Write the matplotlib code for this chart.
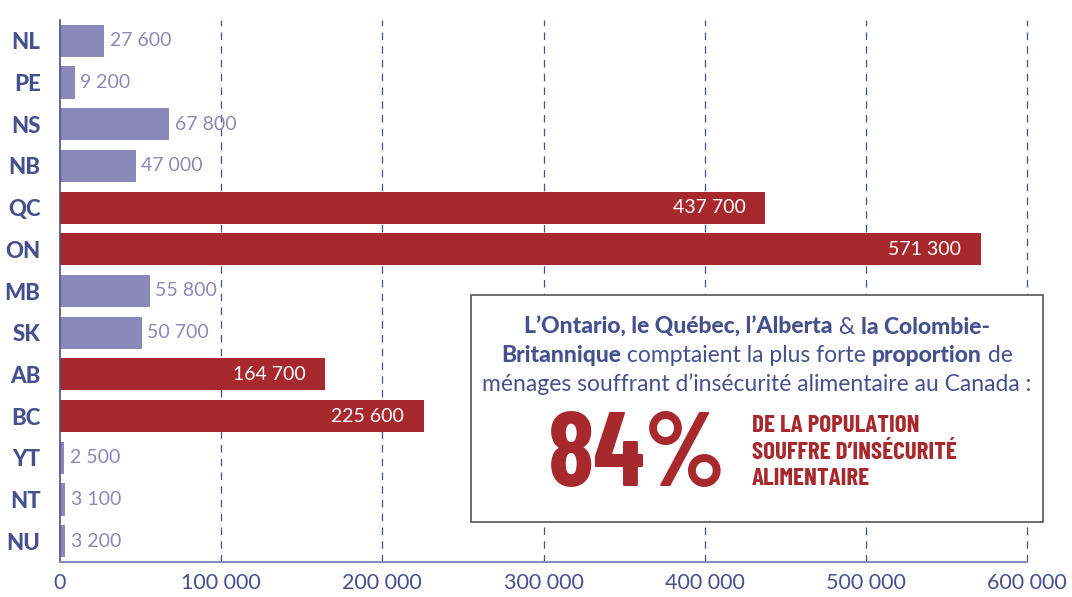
import matplotlib.pyplot as plt
from matplotlib.patches import Rectangle

provinces = ["NL", "PE", "NS", "NB", "QC", "ON", "MB", "SK", "AB", "BC", "YT", "NT", "NU"]
households = [27600, 9200, 67800, 47000, 437700, 571300, 55800, 50700, 164700, 225600, 2500, 3100, 3200]
highlight = ["QC", "ON", "AB", "BC"]
ticks = [0, 100000, 200000, 300000, 400000, 500000, 600000]

NAVY = "#47508f"
LAV = "#8a89b9"
RED = "#a8292d"

MAIN = ["Lato", "DejaVu Sans"]
COND = ["Barlow Condensed", "DejaVu Sans"]


def fmt(v):
    return f"{v:,}".replace(",", " ")


fig = plt.figure(figsize=(10.72, 5.97), dpi=100)
ax = fig.add_axes([60 / 1072, 35 / 597, 967 / 1072, 542 / 597])

y = list(range(len(provinces)))
colors = [RED if p in highlight else LAV for p in provinces]
ax.barh(y, households, height=0.77, color=colors, zorder=2)

ax.set_xlim(0, 600000)
ax.set_ylim(len(provinces) - 0.5, -0.5)

for x in ticks[1:]:
    ax.axvline(x, color=NAVY, lw=0.9, dashes=(6, 5), zorder=1, clip_on=False)

for yi, (p, v) in enumerate(zip(provinces, households)):
    if p in highlight:
        ax.annotate(fmt(v), (v, yi), xytext=(-14, 0), textcoords="offset points",
                    ha="right", va="center", color="white", fontsize=14,
                    family=MAIN, zorder=3)
    else:
        ax.annotate(fmt(v), (v, yi), xytext=(4, 0), textcoords="offset points",
                    ha="left", va="center", color=LAV, fontsize=14,
                    family=MAIN, zorder=3)

ax.set_yticks(y)
ax.set_yticklabels(provinces, fontsize=16, fontweight="black", color=NAVY, family=MAIN)
ax.set_xticks(ticks)
ax.set_xticklabels([fmt(t) for t in ticks], fontsize=15.5, color=NAVY, family=MAIN)
ax.tick_params(axis="both", length=0)
ax.tick_params(axis="x", pad=8)
ax.tick_params(axis="y", pad=14)

for s in ["top", "right"]:
    ax.spines[s].set_visible(False)
ax.spines["left"].set_color(NAVY)
ax.spines["left"].set_linewidth(1.2)
ax.spines["bottom"].set_color(LAV)
ax.spines["bottom"].set_linewidth(1.5)

# call-out box
box = Rectangle((471 / 1072, 75 / 597), 572 / 1072, 227 / 597, transform=fig.transFigure,
                facecolor="white", edgecolor="#555555", lw=1.2, zorder=5)
fig.patches.append(box)

lines = [
    [("L’Ontario, le Québec, l’Alberta", "black"), (" & ", "normal"), ("la Colombie-", "black")],
    [("Britannique", "black"), (" comptaient la plus forte ", "normal"), ("proportion", "black"), (" de", "normal")],
    [("ménages souffrant d’insécurité alimentaire au Canada :", "normal")],
]
line_y = [327, 355, 384]
cx = 757
fig.canvas.draw()
renderer = fig.canvas.get_renderer()
for segs, ly in zip(lines, line_y):
    texts = []
    for s, w in segs:
        t = fig.text(0, 1 - ly / 597, s, fontsize=16.5, fontweight=w, color=NAVY,
                     family=MAIN, va="center", ha="left", zorder=6)
        texts.append(t)
    widths = [t.get_window_extent(renderer).width for t in texts]
    x0 = cx - sum(widths) / 2
    for t, w in zip(texts, widths):
        t.set_x(x0 / 1072)
        x0 += w

fig.text(548 / 1072, 1 - 486 / 597, "84%", fontsize=76, fontweight="bold", color=RED,
         family=COND, va="baseline", ha="left", zorder=6)
for txt, ly in zip(["DE LA POPULATION", "SOUFFRE D’INSÉCURITÉ", "ALIMENTAIRE"], [432, 459, 485]):
    fig.text(752 / 1072, 1 - ly / 597, txt, fontsize=18, fontweight="bold", color=RED,
             family=COND, va="baseline", ha="left", zorder=6)

fig.savefig("out.png", dpi=100)
